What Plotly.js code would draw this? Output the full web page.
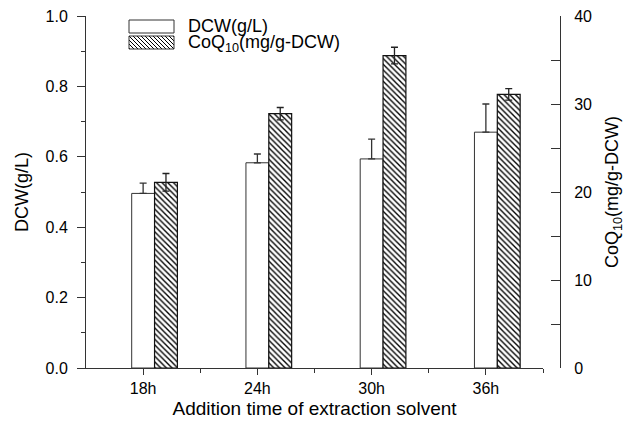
<!DOCTYPE html>
<html>
<head>
<meta charset="utf-8">
<script src="https://cdn.plot.ly/plotly-3.0.1.min.js"></script>
<style>html,body{margin:0;padding:0;background:#fff;}#chart{width:637px;height:431px;}</style>
</head>
<body>
<div id="chart"></div>
<script>
// ---- data ----
const categories = ['18h', '24h', '30h', '36h'];
const dcwValues = [0.496, 0.583, 0.594, 0.670];
const dcwErrors = [0.029, 0.025, 0.056, 0.080];
const coqValues = [21.1, 28.9, 35.5, 31.1];
const coqErrors = [1.0, 0.7, 0.95, 0.65];
const seriesNames = ['DCW(g/L)', 'CoQ<sub>10</sub>(mg/g-DCW)'];
const xTitle = 'Addition time of extraction solvent';
const y1Title = 'DCW(g/L)';
const y2Title = 'CoQ<sub>10</sub>(mg/g-DCW)';

const xPos = categories.map((c, i) => i);
const FONT = 'Liberation Sans, Arial, Helvetica, sans-serif';

const W = 637, H = 431;
const mL = 86, mR = 77, mT = 16, mB = 63;
const pw = W - mL - mR, ph = H - mT - mB;
const px2x = p => (p - mL) / pw;
const py2y = p => (H - mB - p) / ph;

const traces = [
  {
    type: 'bar', name: seriesNames[0], x: xPos, y: dcwValues,
    xaxis: 'x', yaxis: 'y', width: 0.2, offset: -0.1,
    marker: {color: '#ffffff', line: {color: '#333333', width: 1}},
    error_y: {type: 'data', symmetric: false, array: dcwErrors, arrayminus: dcwErrors.map(() => 0),
              color: '#333333', thickness: 1.3, width: 3.5},
    showlegend: false
  },
  {
    type: 'bar', name: seriesNames[1], x: xPos, y: coqValues,
    xaxis: 'x', yaxis: 'y2', width: 0.2, offset: 0.1,
    marker: {color: '#ffffff', line: {color: '#111111', width: 1.2},
             pattern: {shape: '\\', size: 4, solidity: 0.34, fgcolor: '#000000', bgcolor: '#ffffff'}},
    error_y: {type: 'data', symmetric: true, array: coqErrors,
              color: '#222222', thickness: 1.3, width: 3.5},
    showlegend: false
  }
];

// hatched legend swatch as an SVG image
const hatchSvg = "<svg xmlns='http://www.w3.org/2000/svg' width='45' height='13'>" +
  "<defs><pattern id='p' width='4' height='4' patternUnits='userSpaceOnUse'>" +
  "<path d='M-1,-1 L5,5 M-1,3 L1,5 M3,-1 L5,1' stroke='black' stroke-width='1'/></pattern></defs>" +
  "<rect width='45' height='13' fill='white'/><rect width='45' height='13' fill='url(#p)'/></svg>";
const hatchUri = 'data:image/svg+xml;charset=utf-8,' + encodeURIComponent(hatchSvg);

const box1 = {x0: 129, x1: 174, y0: 20, y1: 33};
const box2 = {x0: 129, x1: 174, y0: 36, y1: 49};

const layout = {
  width: W, height: H,
  margin: {l: mL, r: mR, t: mT, b: mB, pad: 0},
  paper_bgcolor: '#ffffff', plot_bgcolor: '#ffffff',
  font: {family: FONT, size: 16, color: '#000000'},
  showlegend: false,
  bargap: 0,
  xaxis: {
    domain: [0, (543 - mL) / pw],
    range: [-0.5, 3.5],
    tickmode: 'array', tickvals: xPos, ticktext: categories,
    ticks: 'outside', ticklen: 6, tickwidth: 1, tickcolor: '#333',
    minor: {tickmode: 'array', tickvals: [0.5, 1.5, 2.5, 3.5], ticks: 'outside', ticklen: 4, tickwidth: 1, tickcolor: '#333'},
    showline: true, linecolor: '#333', linewidth: 1,
    showgrid: false, zeroline: false,
    ticklabelstandoff: 0,
    tickfont: {size: 16},
    title: {text: xTitle, font: {size: 19}, standoff: 5}
  },
  yaxis: {
    range: [0, 1], dtick: 0.2, tickformat: '.1f',
    ticks: 'outside', ticklen: 8, tickwidth: 1, tickcolor: '#333',
    minor: {dtick: 0.1, ticks: 'outside', ticklen: 4, tickwidth: 1, tickcolor: '#333'},
    showline: true, linecolor: '#333', linewidth: 1,
    showgrid: false, zeroline: false,
    ticklabelstandoff: 6,
    tickfont: {size: 16},
    title: {text: y1Title, font: {size: 18}, standoff: 12}
  },
  yaxis2: {
    overlaying: 'y', side: 'right', anchor: 'free', position: 1,
    range: [0, 40], dtick: 10,
    ticks: 'inside', ticklen: 9, tickwidth: 1, tickcolor: '#333',
    minor: {dtick: 5, ticks: 'inside', ticklen: 9, tickwidth: 1, tickcolor: '#333'},
    showline: true, linecolor: '#333', linewidth: 1,
    showgrid: false, zeroline: false,
    ticklabelstandoff: 10,
    tickfont: {size: 16},
    title: {text: y2Title, font: {size: 18}, standoff: 14}
  },
  shapes: [
    {type: 'rect', xref: 'paper', yref: 'paper', x0: px2x(box1.x0), x1: px2x(box1.x1), y0: py2y(box1.y1), y1: py2y(box1.y0),
     line: {color: '#333', width: 1}, fillcolor: '#ffffff'},
    {type: 'rect', xref: 'paper', yref: 'paper', x0: px2x(box2.x0), x1: px2x(box2.x1), y0: py2y(box2.y1), y1: py2y(box2.y0),
     line: {color: '#333', width: 1}, fillcolor: 'rgba(0,0,0,0)', layer: 'above'}
  ],
  images: [
    {source: hatchUri, xref: 'paper', yref: 'paper', x: px2x(box2.x0), y: py2y(box2.y0),
     sizex: px2x(box2.x1) - px2x(box2.x0), sizey: py2y(box2.y0) - py2y(box2.y1),
     xanchor: 'left', yanchor: 'top', sizing: 'stretch', layer: 'above'}
  ],
  annotations: [
    {xref: 'paper', yref: 'paper', x: px2x(186), y: py2y((box1.y0 + box1.y1) / 2), xanchor: 'left', yanchor: 'middle',
     text: seriesNames[0], showarrow: false, font: {size: 18}},
    {xref: 'paper', yref: 'paper', x: px2x(186), y: py2y((box2.y0 + box2.y1) / 2 + 1), xanchor: 'left', yanchor: 'middle',
     text: seriesNames[1], showarrow: false, font: {size: 18}}
  ]
};

Plotly.newPlot('chart', traces, layout, {staticPlot: true, displayModeBar: false});
</script>
</body>
</html>
